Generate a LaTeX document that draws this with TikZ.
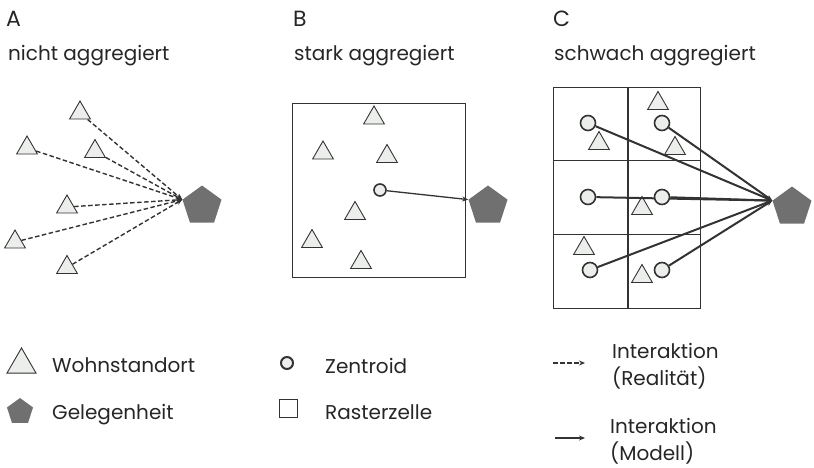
\documentclass[tikz,border=0pt]{standalone}
\usepackage{fontspec}
\setmainfont{Poppins}
\usetikzlibrary{shapes.geometric,arrows.meta,backgrounds}

\definecolor{linie}{HTML}{333333}
\definecolor{hell}{HTML}{ECEEEC}
\definecolor{dunkel}{HTML}{707070}

\tikzset{
  wohnort/.style={regular polygon, regular polygon sides=3, draw=linie, fill=hell,
    line width=0.9pt, minimum size=24pt, inner sep=0pt},
  gelegenheit/.style={regular polygon, regular polygon sides=5, fill=dunkel,
    minimum size=41pt, inner sep=0pt},
  zentroid/.style={circle, draw=linie, fill=hell, line width=1.6pt,
    minimum size=15pt, inner sep=0pt},
  zelle/.style={draw=linie, line width=0.9pt},
  real/.style={linie, dash pattern=on 4.5pt off 2.5pt, line width=1.4pt,
    -{Stealth[length=6pt,width=5pt]}},
  modell/.style={linie, line width=1.3pt, -{Stealth[length=6pt,width=5pt]}},
  beschrift/.style={font=\fontsize{20}{27}\selectfont, text=black!85,
    inner sep=0pt, anchor=base west},
  titel/.style={font=\fontsize{22}{24}\selectfont, text=black!85,
    inner sep=0pt, anchor=base west},
}

\begin{document}
\begin{tikzpicture}[x=1pt,y=-1pt]
  \useasboundingbox (0,0) rectangle (814,467);

  % titles
  \node[titel] (tA) at (6,26) {A};
  \node[beschrift] (sA) at (8,60) {nicht aggregiert};
  \node[titel] (tB) at (293,26) {B};
  \node[beschrift] (sB) at (294,60) {stark aggregiert};
  \node[titel] (tC) at (553,26) {C};
  \node[beschrift] (sC) at (554,60) {schwach aggregiert};

  % A: every dwelling on its own
  \node[gelegenheit] (gA) at (202,206) {};
  \node[wohnort] (a1) at (80,113) {};
  \node[wohnort] (a2) at (27,148) {};
  \node[wohnort] (a3) at (95,151.5) {};
  \node[wohnort] (a4) at (67,207) {};
  \node[wohnort] (a5) at (15,242) {};
  \node[wohnort] (a6) at (67,267.5) {};
  \foreach \w in {a1,a2,a3,a4,a5,a6}
    \draw[real] (\w) -- (gA.corner 2);

  % B: one cell, one centroid
  \draw[zelle] (292,103) rectangle (465,277);
  \node[wohnort] (b1) at (374,118) {};
  \node[wohnort] (b2) at (323,153) {};
  \node[wohnort] (b3) at (387,156.5) {};
  \node[wohnort] (b4) at (355,213.5) {};
  \node[wohnort] (b5) at (312,241.5) {};
  \node[wohnort] (b6) at (361,262.5) {};
  \node[zentroid, minimum size=12pt] (zB) at (380,190) {};
  \node[gelegenheit] (gB) at (488,206) {};
  \draw[modell] (zB) -- (gB.corner 2);

  % C: 2x3 grid, one centroid per cell
  \node[zentroid] (c1) at (588,123) {};
  \node[zentroid] (c2) at (662,123) {};
  \node[zentroid] (c3) at (588,197) {};
  \node[zentroid] (c4) at (662,197) {};
  \node[zentroid] (c5) at (590,270) {};
  \node[zentroid] (c6) at (662,270) {};
  \node[gelegenheit] (gC) at (792,207) {};
  \begin{scope}[on background layer]
    \draw[zelle] (553,87) rectangle (700,308);
    \draw[zelle] (553,160) -- (700,160);
    \draw[zelle] (553,234) -- (700,234);
    \draw[zelle, line width=1.4pt] (628,87) -- (628,308);
    \node[wohnort] (w1) at (658,103.5) {};
    \node[wohnort] (w2) at (599,143.5) {};
    \node[wohnort] (w3) at (675,148.5) {};
    \node[wohnort] (w4) at (642,208.5) {};
    \node[wohnort] (w5) at (584,248.5) {};
    \node[wohnort] (w6) at (642,276.5) {};
    \foreach \z in {c1,c2,c3,c4,c5,c6}
      \draw[modell, line width=2pt] (\z) -- (gC.corner 2);
  \end{scope}

  % legend
  \node[wohnort, minimum size=33.5pt] (lw) at (21.5,364.7) {};
  \node[beschrift] at (52,372) {Wohnstandort};
  \node[gelegenheit, minimum size=27.4pt] (lg) at (20,411.7) {};
  \node[beschrift] at (52,419) {Gelegenheit};
  \node[zentroid, minimum size=12pt, line width=2pt] (lz) at (287,363) {};
  \node[beschrift] at (325,373) {Zentroid};
  \node[draw=linie, line width=0.9pt, minimum size=18pt, inner sep=0pt] (lr) at (288.5,408) {};
  \node[beschrift] at (325,419) {Rasterzelle};
  \coordinate (r0) at (553,363);
  \coordinate (r1) at (585,363);
  \draw[real] (r0) -- (r1);
  \node[beschrift, align=left, anchor=north west] at (612,343) {Interaktion\\(Realität)};
  \coordinate (m0) at (555,438);
  \coordinate (m1) at (585,438);
  \draw[modell] (m0) -- (m1);
  \node[beschrift, align=left, anchor=north west] at (610,418) {Interaktion\\(Modell)};
\end{tikzpicture}
\end{document}
